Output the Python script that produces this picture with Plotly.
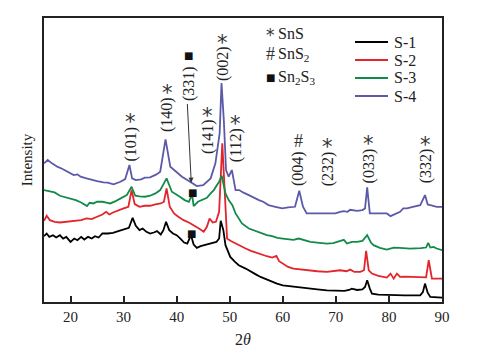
import plotly.graph_objects as go

# ---- data: (2theta, intensity) ----
S1 = [(15,197),(15.5,205),(16,195),(16.7,200),(17.3,193),(18,200),(18.6,190),(19.2,195),(20,180),(20.7,190),(21.3,185),(22,195),(22.6,187),(23.3,195),(24,190),(24.6,197),(25.3,193),(26,205),(27,205),(28,207),(29,212),(30,218),(31,222),(31.7,252),(32.3,228),(33,215),(33.6,220),(34.3,210),(35,205),(35.7,208),(36.3,212),(37,202),(37.5,215),(38,240),(38.6,215),(39.3,205),(40,200),(40.7,190),(41.4,178),(42,175),(42.7,200),(43.2,172),(43.8,162),(44.5,167),(45.3,170),(46,172),(46.8,177),(47.5,180),(48,190),(48.3,243),(48.8,215),(49.2,170),(50.1,135),(51,120),(51.7,110),(53,100),(54,92),(55,82),(55.8,75),(57,67),(58,60),(58.9,55),(60,50),(61,48),(62,45),(63,44),(64,42),(65.2,40),(66.5,38),(68.3,35),(70,35),(71.6,33),(72.5,36),(73,40),(74,36),(75,38),(75.5,45),(75.9,65),(76.4,40),(76.8,25),(78,22),(80.9,20),(83,20),(85.9,20),(86.4,30),(86.8,55),(87.3,28),(87.8,15),(89,14),(90,13)]
S2 = [(15,243),(15.5,258),(16.1,245),(17,240),(18,238),(19,240),(20,240),(21,243),(22,245),(23,250),(24,248),(25,255),(26,262),(26.7,270),(27.3,262),(28,268),(29,275),(30,280),(30.9,285),(31.5,335),(32.1,293),(33,285),(34,288),(35,288),(36,292),(37,295),(37.6,300),(38.1,340),(38.7,285),(39.5,265),(40.3,255),(41.3,245),(42.3,238),(43.2,230),(44.2,220),(45.1,210),(45.7,225),(46.2,250),(46.8,238),(47.4,240),(48,270),(48.6,475),(49.1,300),(49.5,190),(50.3,182),(51.1,175),(52,168),(53,160),(54,153),(55,147),(56,142),(57,137),(58,133),(58.8,138),(59.3,122),(60,115),(61,105),(62,100),(63.5,97),(65.2,95),(66.5,92),(68.3,90),(69.5,93),(70.8,95),(72,92),(72.7,97),(73.5,90),(74.6,90),(75.3,95),(75.7,153),(76.2,95),(76.8,85),(78,78),(79.6,73),(80.3,85),(80.9,70),(81.5,85),(82.1,75),(83,76),(84,75),(85.5,74),(87,74),(87.5,125),(88.1,70),(89,70),(90,70)]
S3 = [(15,335),(16,332),(17,328),(18,318),(19,314),(20,310),(21,305),(22,298),(23.1,287),(23.6,297),(24.3,295),(25,300),(26,300),(27,297),(27.5,295),(28.5,302),(29.4,310),(30.6,320),(31.5,345),(32.2,318),(33,316),(34,315),(35,318),(36,325),(36.9,335),(38.1,370),(39.1,330),(40,322),(40.6,315),(41.5,305),(42.3,300),(42.9,322),(43.2,287),(44,300),(44.8,305),(45.7,312),(46.4,325),(47,335),(47.6,350),(48,360),(48.5,378),(49.2,325),(49.8,305),(50.5,290),(51.1,265),(52.3,235),(53.6,220),(55,212),(56,205),(57,200),(58,197),(59,192),(60,190),(61,188),(62,186),(63,190),(64,186),(65.2,180),(66.5,178),(68.3,175),(69.5,176),(70.8,182),(71.5,186),(72.1,175),(73,180),(74,180),(75,183),(75.9,200),(76.6,178),(77.1,170),(78.3,162),(79.6,157),(80.9,163),(82,162),(84,160),(86,161),(87,163),(87.4,177),(87.8,163),(88.4,165),(89,160),(90,155)]
S4 = [(15,415),(15.7,425),(16.5,415),(17.5,405),(18.5,398),(19.5,390),(20.6,380),(21.3,382),(21.9,375),(23,370),(24,365),(25,362),(26.2,358),(27,357),(28.1,352),(29.4,360),(30.3,368),(31.1,410),(31.6,370),(32.3,365),(33.3,367),(34,372),(35,373),(36.2,382),(36.9,390),(37.9,487),(38.8,405),(39.8,390),(41,375),(42,365),(42.9,355),(43.8,347),(45,350),(46.4,370),(47.3,415),(48.1,505),(48.45,655),(48.9,540),(49.3,395),(49.8,375),(50.4,395),(51.1,335),(51.8,335),(52.5,328),(53.6,320),(54.5,312),(55.5,305),(56.3,300),(57.3,290),(58.6,285),(59.9,280),(61,283),(62.3,285),(63.1,333),(63.8,285),(64.5,265),(65.5,265),(67,265),(68.5,263),(69.9,265),(70.8,270),(71.5,272),(72.2,270),(72.7,276),(74,273),(75,275),(75.5,280),(75.9,343),(76.4,265),(77.5,265),(79.6,265),(80.3,257),(81,262),(82.1,270),(82.7,280),(83.4,280),(84.5,285),(85.9,290),(86.8,320),(87.3,292),(87.8,290),(89,285),(90,285)]

series_names = ["S-1", "S-2", "S-3", "S-4"]
series_colors = ["#000000", "#e3242b", "#138a4a", "#5c5aa8"]
series_data = [S1, S2, S3, S4]

# peak labels: label text, x position, y of label centre, phase symbol, y of symbol
peak_labels = ["(101)", "(140)", "(331)", "(141)", "(002)", "(112)", "(004)", "(232)", "(033)", "(332)"]
peak_x      = [31.3, 38.2, 42.3, 45.8, 48.6, 51.1, 63.0, 68.5, 76.2, 86.9]
peak_label_y = [473, 560, 655, 495, 713, 468, 400, 400, 408, 408]
peak_symbols = ["*", "*", "■", "*", "*", "*", "#", "*", "*", "*"]
peak_symbol_y = [545, 632, 737, 564, 782, 538, 482, 469, 478, 475]

square_x = [42.9, 42.8]
square_y = [328, 205]

# phase key
phase_symbols = ["*", "#", "■"]
phase_texts = ["SnS", "SnS<sub>2</sub>", "Sn<sub>2</sub>S<sub>3</sub>"]

xticks = [20, 30, 40, 50, 60, 70, 80, 90]

FONT = "Liberation Serif, Times New Roman, serif"

# page is offset by the 8px body margin, so the figure is 8px smaller
OFF = 8
W, H = 484 - OFF, 356 - OFF
ML, MR, MT, MB = 44 - OFF, 42, 18 - OFF, 54
PW, PH = W - ML - MR, H - MT - MB


def px_x(px):
    return (px - OFF - ML) / PW


def px_y(py):
    return 1 - (py - OFF - MT) / PH


def symbol_ann(sym, x, y, xref, yref, star_size=21):
    base = dict(x=x, y=y, xref=xref, yref=yref, showarrow=False,
                xanchor="center", yanchor="middle")
    if sym == "*":
        base.update(text="*", yshift=-2, font=dict(family="DejaVu Sans", size=star_size, color="#333"))
    elif sym == "#":
        base.update(text="#", font=dict(family=FONT, size=18, color="#333"))
    else:
        base.update(text="■", font=dict(family="DejaVu Sans", size=10, color="#111"))
    return base


fig = go.Figure()
for name, col, data in zip(series_names, series_colors, series_data):
    fig.add_trace(go.Scatter(
        x=[p[0] for p in data], y=[p[1] for p in data],
        mode="lines", name=name, showlegend=False, line=dict(color=col, width=1.8),
    ))

ann = []
for lab, x, y, sym, sy in zip(peak_labels, peak_x, peak_label_y, peak_symbols, peak_symbol_y):
    ann.append(dict(x=x, y=y, xref="x", yref="y", text=lab, textangle=-90,
                    showarrow=False, font=dict(family=FONT, size=16, color="#222")))
    ann.append(symbol_ann(sym, x, sy, "x", "y"))

for sx, sy in zip(square_x, square_y):
    ann.append(symbol_ann("■", sx, sy, "x", "y"))

# arrow from the (331) label to the S-4 curve
ann.append(dict(x=42.75, y=357, ax=42.0, ay=597, xref="x", yref="y", axref="x", ayref="y",
                text="", showarrow=True, arrowhead=2, arrowsize=1, arrowwidth=1,
                arrowcolor="#333"))

# phase key rows
phase_row_y = [33, 54, 78]
for sym, txt, ypx in zip(phase_symbols, phase_texts, phase_row_y):
    ann.append(symbol_ann(sym, px_x(270.5), px_y(ypx), "paper", "paper", star_size=17))
    ann.append(dict(x=px_x(276), y=px_y(ypx), xref="paper", yref="paper",
                    xanchor="left", yanchor="middle", text=txt, showarrow=False,
                    font=dict(family=FONT, size=16, color="#222")))

# series key
shapes = []
legend_y = [42, 60, 78, 96]
for name, col, ly in zip(series_names, series_colors, legend_y):
    shapes.append(dict(type="line", xref="paper", yref="paper",
                       x0=px_x(355), x1=px_x(388), y0=px_y(ly), y1=px_y(ly),
                       line=dict(color=col, width=2)))
    ann.append(dict(x=px_x(392), y=px_y(ly), xref="paper", yref="paper",
                    xanchor="left", yanchor="middle", text=name, showarrow=False,
                    font=dict(family=FONT, size=16, color="#222")))

fig.update_layout(
    width=W, height=H,
    margin=dict(l=ML, r=MR, t=MT, b=MB),
    paper_bgcolor="white", plot_bgcolor="white",
    font=dict(family=FONT, size=14, color="#222"),
    showlegend=False,
    xaxis=dict(range=[15, 90], tickvals=xticks, ticks="inside", ticklen=6, tickwidth=1.5,
               tickcolor="#222", showline=True, linewidth=1.5, linecolor="#222", mirror=True,
               showgrid=False, zeroline=False, automargin=False,
               tickfont=dict(family=FONT, size=15, color="#222"),
               title=dict(text="2<i>θ</i>", font=dict(family=FONT, size=16, color="#222"), standoff=10)),
    yaxis=dict(range=[0, 850], showticklabels=False, ticks="", showline=True, linewidth=1.5,
               linecolor="#222", mirror=True, showgrid=False, zeroline=False, automargin=False,
               title=dict(text="Intensity", font=dict(family=FONT, size=15, color="#222"), standoff=6)),
    annotations=ann,
    shapes=shapes,
)

fig.write_html("out.html")
